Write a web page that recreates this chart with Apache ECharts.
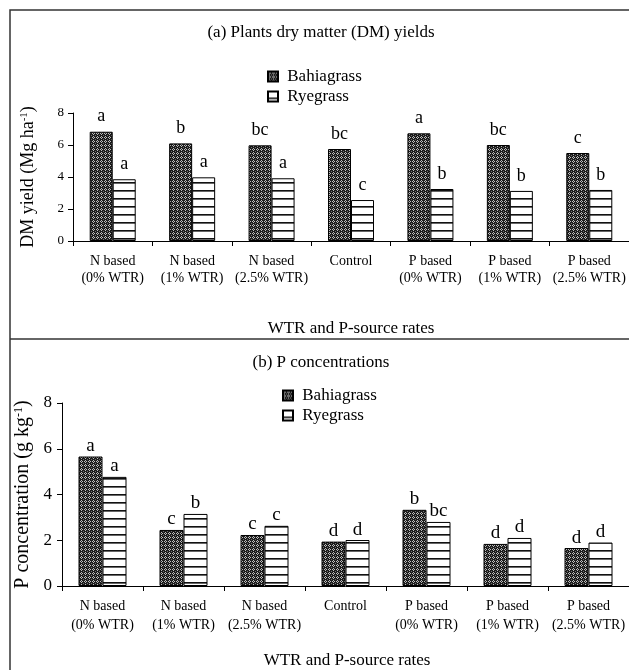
<!DOCTYPE html>
<html>
<head>
<meta charset="utf-8">
<script src="https://cdn.jsdelivr.net/npm/echarts@6/dist/echarts.min.js"></script>
<style>
html,body{margin:0;padding:0;background:#fff;}
#chart{width:629px;height:670px;}
</style>
</head>
<body>
<div id="chart"></div>
<script>
// ---- data ----
const categories = ['N based\n(0% WTR)','N based\n(1% WTR)','N based\n(2.5% WTR)','Control','P based\n(0% WTR)','P based\n(1% WTR)','P based\n(2.5% WTR)'];
const seriesNames = ['Bahiagrass','Ryegrass'];
const yTicksA = [0,2,4,6,8];
const yTicksB = [0,2,4,6,8];
// (a) DM yields (Mg/ha)
const dmBahia = [6.83, 6.10, 5.98, 5.75, 6.73, 6.00, 5.50];
const dmRye   = [3.86, 3.98, 3.92, 2.56, 3.25, 3.13, 3.19];
const dmBahiaLetters = ['a','b','bc','bc','a','bc','c'];
const dmRyeLetters   = ['a','a','a','c','b','b','b'];
// (b) P concentrations (g/kg)
const pBahia = [5.66, 2.45, 2.23, 1.94, 3.33, 1.84, 1.66];
const pRye   = [4.77, 3.15, 2.63, 2.01, 2.80, 2.10, 1.90];
const pBahiaLetters = ['a','c','c','d','b','d','d'];
const pRyeLetters   = ['a','b','c','d','bc','d','d'];

const FONT = "'Liberation Serif','Times New Roman',serif";

function makeBahia(){
  const c=document.createElement('canvas'); c.width=4; c.height=4;
  const g=c.getContext('2d');
  g.fillStyle='#1c1c1c'; g.fillRect(0,0,4,4);
  g.fillStyle='#bdbdbd';
  [[1,0],[0,1],[2,1],[1,2]].forEach(p=>g.fillRect(p[0],p[1],1,1));
  g.fillStyle='#707070'; g.fillRect(3,3,1,1);
  return c;
}
function makeRye(){
  const c=document.createElement('canvas'); c.width=4; c.height=8;
  const g=c.getContext('2d');
  g.fillStyle='#ffffff'; g.fillRect(0,0,4,8);
  g.fillStyle='#111111'; g.fillRect(0,6,4,1);
  g.fillStyle='#666666'; g.fillRect(0,7,4,1);
  return c;
}
const bahiaFill = {image: makeBahia(), repeat: 'repeat'};
const ryeFill = {image: makeRye(), repeat: 'repeat'};

const chart = echarts.init(document.getElementById('chart'), null, {renderer:'canvas'});

function yAxisCfg(gridIndex, ticks, fs, margin, name, nameFs, gap){
  return {
    type:'value', gridIndex, min:ticks[0], max:ticks[ticks.length-1], interval:ticks[1]-ticks[0],
    axisLine:{show:true, lineStyle:{color:'#000', width:1}},
    axisTick:{show:true, length:5, lineStyle:{color:'#000'}},
    splitLine:{show:false},
    axisLabel:{fontFamily:FONT, fontSize:fs, color:'#000', margin},
    name, nameLocation:'middle', nameRotate:90, nameGap:gap,
    nameTextStyle:{fontFamily:FONT, fontSize:nameFs, color:'#000',
      rich:{s:{fontFamily:FONT, fontSize:Math.round(nameFs*0.6), color:'#000', verticalAlign:'top', padding:[0,0,0,0]}}}
  };
}
function xAxisCfg(gridIndex, lh, margin){
  return {
    type:'category', gridIndex, data:categories,
    axisLine:{show:true, lineStyle:{color:'#000', width:1}},
    axisTick:{show:true, length:5, lineStyle:{color:'#000'}},
    axisLabel:{interval:0, fontFamily:FONT, fontSize:14, color:'#000', lineHeight:lh, margin}
  };
}
function barSeries(name, data, letters, xi, yi, fill, bw, dist, lfs){
  return {
    type:'bar', name, data, xAxisIndex:xi, yAxisIndex:yi,
    barWidth:bw, barGap:'0%',
    itemStyle:{color:fill, borderColor:'#000', borderWidth:1},
    label:{show:true, position:'top', distance:dist, color:'#000', fontFamily:FONT, fontSize:lfs,
      formatter:p=>letters[p.dataIndex]},
    emphasis:{disabled:true}, silent:true, animation:false
  };
}

const option = {
  animation:false,
  backgroundColor:'#fff',
  grid:[
    {left:73, top:113, width:560, height:128},
    {left:62, top:403, width:570, height:183}
  ],
  xAxis:[xAxisCfg(0,17,12), xAxisCfg(1,19,11)],
  yAxis:[
    yAxisCfg(0, yTicksA, 13, 9, 'DM yield (Mg ha{s|-1})', 18, 36),
    yAxisCfg(1, yTicksB, 17, 10, 'P concentration (g kg{s|-1})', 20, 22)
  ],
  legend:[
    {orient:'vertical', left:267, top:67, padding:0, itemGap:1, itemWidth:10, itemHeight:10, icon:'rect',
      data:seriesNames, formatter:n=>' '+n, selectedMode:false,
      textStyle:{fontFamily:FONT, fontSize:17, color:'#000', lineHeight:19}},
    {orient:'vertical', left:282, top:386, padding:0, itemGap:1, itemWidth:10, itemHeight:10, icon:'rect',
      data:seriesNames, formatter:n=>' '+n, selectedMode:false,
      textStyle:{fontFamily:FONT, fontSize:17, color:'#000', lineHeight:19}}
  ],
  series:[
    barSeries(seriesNames[0], dmBahia, dmBahiaLetters, 0, 0, bahiaFill, 23, 6, 18),
    barSeries(seriesNames[1], dmRye, dmRyeLetters, 0, 0, ryeFill, 23, 6, 18),
    barSeries(seriesNames[0], pBahia, pBahiaLetters, 1, 1, bahiaFill, 24, 1, 19),
    barSeries(seriesNames[1], pRye, pRyeLetters, 1, 1, ryeFill, 24, 1, 19)
  ],
  graphic:[
    {type:'rect', shape:{x:10, y:10, width:640, height:700}, style:{fill:null, stroke:'#333', lineWidth:1.5}, silent:true},
    {type:'line', shape:{x1:10, y1:339, x2:640, y2:339}, style:{stroke:'#333', lineWidth:1.5}, silent:true},
    {type:'text', x:321, y:33, style:{text:'(a) Plants dry matter (DM) yields', font:'17px '+FONT, fill:'#000', textAlign:'center', textVerticalAlign:'middle'}, silent:true},
    {type:'text', x:351, y:329, style:{text:'WTR and P-source rates', font:'17px '+FONT, fill:'#000', textAlign:'center', textVerticalAlign:'middle'}, silent:true},
    {type:'text', x:321, y:363, style:{text:'(b) P concentrations', font:'17px '+FONT, fill:'#000', textAlign:'center', textVerticalAlign:'middle'}, silent:true},
    {type:'text', x:347, y:661, style:{text:'WTR and P-source rates', font:'17px '+FONT, fill:'#000', textAlign:'center', textVerticalAlign:'middle'}, silent:true}
  ]
};
chart.setOption(option);
</script>
</body>
</html>
